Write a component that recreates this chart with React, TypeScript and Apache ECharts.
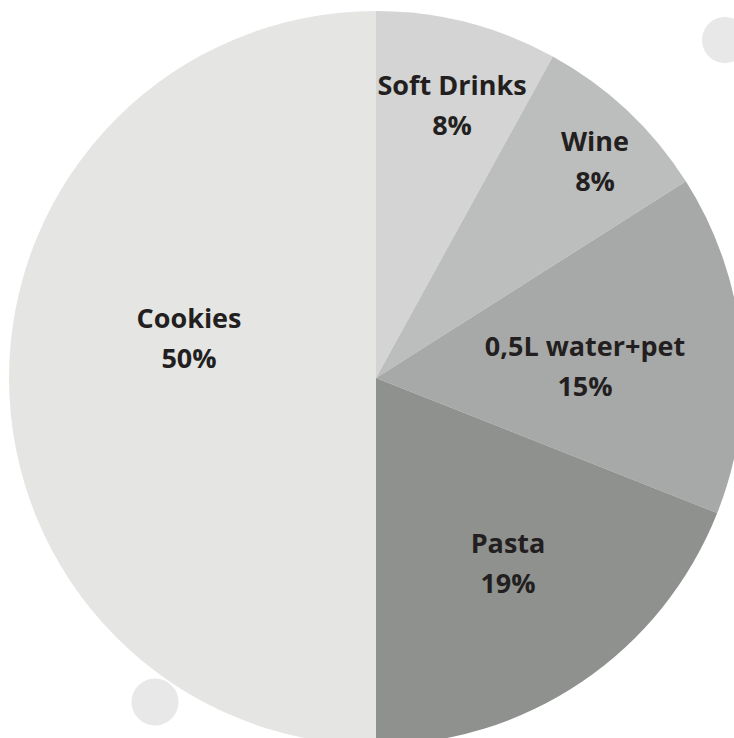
import React, { useEffect, useRef } from "react";
import * as echarts from "echarts";

const categories = ["Soft Drinks", "Wine", "0,5L water+pet", "Pasta", "Cookies"];
const values = [8, 8, 15, 19, 50];
const percentLabels = ["8%", "8%", "15%", "19%", "50%"];
const sliceColors = ["#d3d4d3", "#bcbdbd", "#a7a9a8", "#8f918f", "#e5e6e4"];
const labelSpots = [
  [452, 104],
  [595, 160],
  [585, 365],
  [508, 562],
  [189, 337],
];

export default function App() {
  const ref = useRef<HTMLDivElement>(null);
  useEffect(() => {
    document.body.style.margin = "0";
    const chart = echarts.init(ref.current!, null, { renderer: "svg" });
    chart.setOption({
      animation: false,
      backgroundColor: "#ffffff",
      graphic: [
        { type: "circle", shape: { cx: 725, cy: 40, r: 23 }, style: { fill: "#e8e8e8" }, z: 0 },
        { type: "circle", shape: { cx: 155, cy: 702, r: 23.5 }, style: { fill: "#e8e8e8" }, z: 0 },
      ],
      series: [
        {
          type: "pie",
          center: [376, 378],
          radius: [0, 367],
          startAngle: 90,
          clockwise: true,
          avoidLabelOverlap: false,
          silent: true,
          z: 2,
          itemStyle: { borderWidth: 0 },
          data: categories.map((c, i) => ({
            name: c,
            value: values[i],
            itemStyle: { color: sliceColors[i] },
          })),
          label: {
            show: true,
            position: "inside",
            formatter: (p: any) => `${p.name}\n${percentLabels[p.dataIndex]}`,
            fontFamily: "Open Sans",
            fontWeight: "bold",
            fontSize: 27,
            lineHeight: 40,
            color: "#231f20",
            align: "center",
          },
          labelLine: { show: false },
          labelLayout: (params: any) => ({
            x: labelSpots[params.dataIndex][0],
            y: labelSpots[params.dataIndex][1],
            align: "center",
            verticalAlign: "middle",
          }),
        },
      ],
    });
    return () => chart.dispose();
  }, []);
  return <div ref={ref} style={{ width: 734, height: 738 }} />;
}
